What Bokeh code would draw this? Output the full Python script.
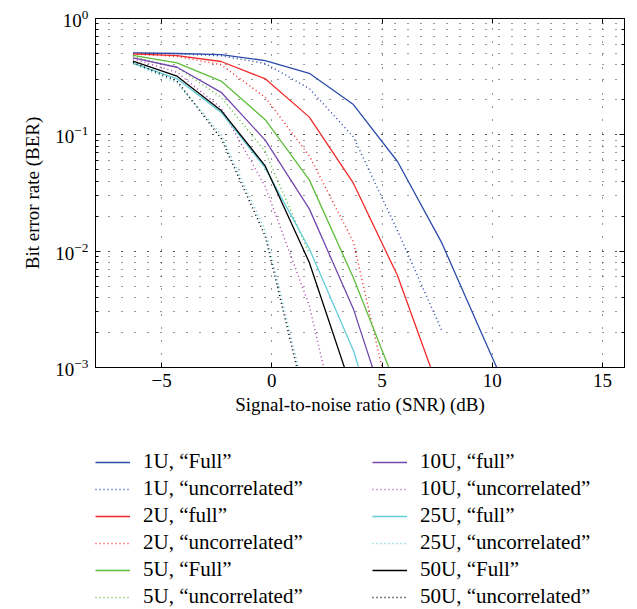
from bokeh.plotting import figure
from bokeh.layouts import column
from bokeh.models import (Range1d, FixedTicker, LinearAxis, LogAxis, LogTicker,
                          Legend, LegendItem, CustomJSTickFormatter)
from bokeh.embed import file_html
from bokeh.resources import INLINE

# SNR grid (dB)
snr = [-6.3, -4.3, -2.3, -0.3, 1.7, 3.7, 5.7, 7.7, 9.7, 11.7]

# BER values
ber_1u_full = [0.505, 0.500, 0.490, 0.435, 0.338, 0.182, 0.059, 0.0119, 0.00164, 0.00023]
ber_1u_unc = [0.505, 0.498, 0.478, 0.41, 0.25, 0.096, 0.015, 0.0021]
ber_2u_full = [0.497, 0.480, 0.427, 0.303, 0.142, 0.0384, 0.00617, 0.00055]
ber_2u_unc = [0.495, 0.472, 0.40, 0.21, 0.066, 0.012, 0.00026]
ber_5u_full = [0.481, 0.416, 0.290, 0.135, 0.041, 0.0059, 0.00065]
ber_5u_unc = [0.47, 0.38, 0.21, 0.072, 0.0095]
ber_10u_full = [0.459, 0.381, 0.232, 0.090, 0.0231, 0.00319, 0.00022]
ber_10u_unc = [0.45, 0.345, 0.17, 0.036, 0.0034, 0.00008]
ber_25u_full = [0.413, 0.303, 0.156, 0.052, 0.0105, 0.0014, 0.000087]
ber_25u_unc = [0.41, 0.28, 0.10, 0.015, 0.00041]
ber_50u_full = [0.430, 0.319, 0.162, 0.054, 0.0080, 0.00059]
ber_50u_unc = [0.42, 0.29, 0.093, 0.0135, 0.00036]

labels = ['1U, \u201cFull\u201d', '1U, \u201cuncorrelated\u201d',
          '2U, \u201cfull\u201d', '2U, \u201cuncorrelated\u201d',
          '5U, \u201cFull\u201d', '5U, \u201cuncorrelated\u201d',
          '10U, \u201cfull\u201d', '10U, \u201cuncorrelated\u201d',
          '25U, \u201cfull\u201d', '25U, \u201cuncorrelated\u201d',
          '50U, \u201cFull\u201d', '50U, \u201cuncorrelated\u201d']
series = [ber_1u_full, ber_1u_unc, ber_2u_full, ber_2u_unc, ber_5u_full, ber_5u_unc,
          ber_10u_full, ber_10u_unc, ber_25u_full, ber_25u_unc, ber_50u_full, ber_50u_unc]
colors = ['#2c4cab', '#2c4cab', '#f22a2a', '#f22a2a', '#5dbd3a', '#5dbd3a',
          '#7348ad', '#b545b5', '#62cdd8', '#62cdd8', '#000000', '#000000']

x_ticks = [-5, 0, 5, 10, 15]

FONT = "Liberation Serif"

p = figure(width=637, height=420, y_axis_type="log",
           x_range=Range1d(-8, 16), y_range=Range1d(1e-3, 1),
           output_backend="svg", toolbar_location=None,
           min_border_left=95, min_border_right=13, min_border_top=18,
           min_border_bottom=53)
p.background_fill_color = "white"
p.border_fill_color = "white"
p.outline_line_color = "black"
p.outline_line_width = 1

minus_fmt = CustomJSTickFormatter(code="return tick < 0 ? '\\u2212' + Math.abs(tick) : String(tick);")

# axes
xa = p.xaxis[0]
xa.ticker = FixedTicker(ticks=x_ticks)
xa.formatter = minus_fmt
xa.axis_label = "Signal-to-noise ratio (SNR) (dB)"
ya = p.yaxis[0]
ya.axis_label = "Bit error rate (BER)"
for ax in (xa, ya):
    ax.axis_label_text_font = FONT
    ax.axis_label_text_font_style = "normal"
    ax.axis_label_text_font_size = "19px"
    ax.axis_label_text_color = "black"
    ax.major_label_text_font = FONT
    ax.major_label_text_font_size = "19px"
    ax.major_label_text_color = "black"
    ax.major_tick_in = 5
    ax.major_tick_out = 0
    ax.minor_tick_in = 3
    ax.minor_tick_out = 0
    ax.axis_line_color = "black"
    ax.major_tick_line_color = "black"
    ax.minor_tick_line_color = "black"
xa.minor_tick_line_color = None
xa.major_label_standoff = 6
xa.axis_label_standoff = 4
ya.major_label_standoff = 7
ya.axis_label_standoff = 9

top = LinearAxis(ticker=FixedTicker(ticks=x_ticks), major_label_text_font_size="1px",
                 major_label_text_alpha=0,
                 major_tick_in=5, major_tick_out=0, minor_tick_line_color=None,
                 major_label_standoff=0)
p.add_layout(top, "above")
right = LogAxis(ticker=LogTicker(), major_label_text_font_size="1px",
                major_label_text_alpha=0,
                major_tick_in=5, major_tick_out=0, minor_tick_in=3, minor_tick_out=0,
                major_label_standoff=0)
p.add_layout(right, "right")

# grid
p.xgrid.grid_line_color = "#333333"
p.xgrid.grid_line_dash = "1 12"
p.xgrid.grid_line_width = 1
p.ygrid.grid_line_color = "#333333"
p.ygrid.grid_line_dash = "1 12"
p.ygrid.minor_grid_line_color = "#333333"
p.ygrid.minor_grid_line_dash = "1 12"

def style(i):
    dotted = (i % 2 == 1)
    return dict(line_color=colors[i], line_width=1.5 if dotted else 1.3,
                line_dash="1 3" if dotted else "solid")

for i, vals in enumerate(series):
    p.line(snr[:len(vals)], vals, **style(i))

# legend panel below the chart (its frame is aligned with the chart's frame)
q = figure(width=637, height=189, x_range=Range1d(0, 1), y_range=Range1d(0, 1),
           output_backend="svg", toolbar_location=None,
           x_axis_location=None, y_axis_location=None,
           min_border_left=0, min_border_right=0, min_border_top=0, min_border_bottom=0)
q.grid.visible = False
q.outline_line_color = None
q.background_fill_color = "white"
q.border_fill_color = "white"

# legend-only renderers placed outside the visible range of the legend panel
leg_renderers = [q.line([-5, -4], [-5, -5], **style(i)) for i in range(12)]

def make_legend(idx, loc):
    return Legend(items=[LegendItem(label=labels[i], renderers=[leg_renderers[i]]) for i in idx],
                  location=loc, padding=0, margin=0, spacing=2,
                  label_height=20, glyph_height=20, glyph_width=35, label_standoff=13,
                  label_text_font=FONT, label_text_font_size="21px",
                  label_text_color="black",
                  border_line_color=None, background_fill_alpha=0)

q.add_layout(make_legend(range(0, 6), (0, 0)))
q.add_layout(make_legend(range(6, 12), (277, 0)))

layout = column(p, q, spacing=0)
open("out.html", "w").write(file_html(layout, INLINE))
